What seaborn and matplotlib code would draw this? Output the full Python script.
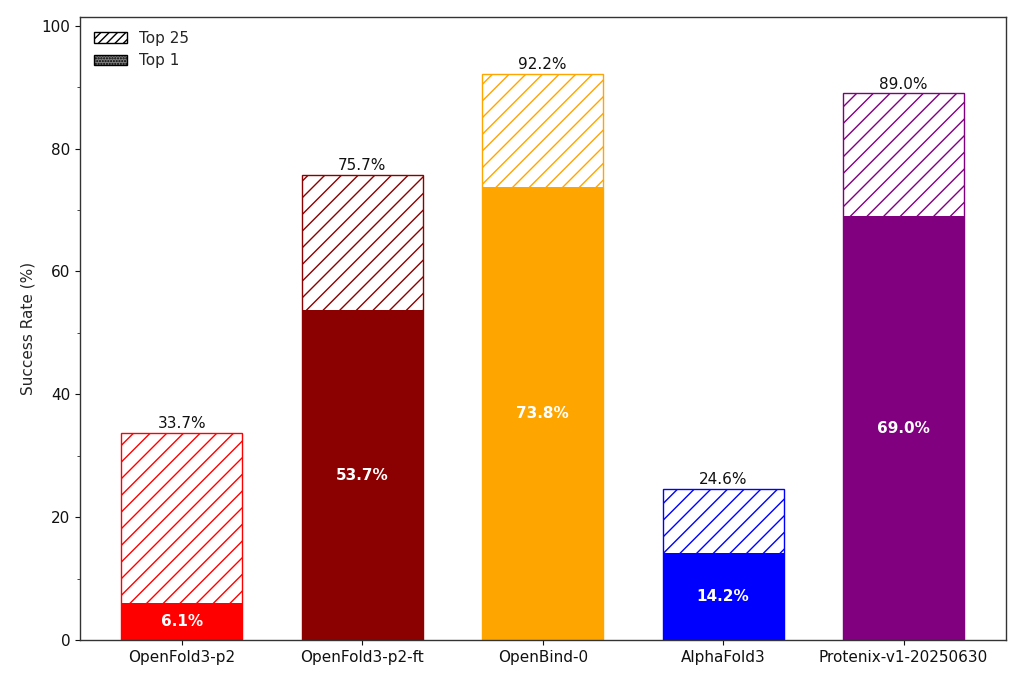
import matplotlib
matplotlib.use("Agg")
import matplotlib.pyplot as plt
import matplotlib.patches as mpatches
from matplotlib.ticker import MultipleLocator
import seaborn as sns
import pandas as pd

models = ["OpenFold3-p2", "OpenFold3-p2-ft", "OpenBind-0", "AlphaFold3", "Protenix-v1-20250630"]
top25 = [33.7, 75.7, 92.2, 24.6, 89.0]
top1 = [6.1, 53.7, 73.8, 14.2, 69.0]
colors = ["red", "darkred", "orange", "blue", "purple"]

df = pd.DataFrame({"model": models, "top25": top25, "top1": top1})

sns.set_style("ticks")
plt.rcParams["font.family"] = ["DejaVu Sans"]
plt.rcParams["hatch.linewidth"] = 1.0

fig, ax = plt.subplots(figsize=(10.24, 6.83), dpi=100)
fig.subplots_adjust(left=0.078, right=0.982, top=0.975, bottom=0.063)

# Top 25: white bars with coloured hatch
sns.barplot(data=df, x="model", y="top25", color="white", width=0.67, ax=ax, saturation=1)
n25 = len(ax.patches)
for p, c in zip(ax.patches[:n25], colors):
    p.set_facecolor("white")
    p.set_edgecolor(c)
    p.set_hatch("//")
    p.set_linewidth(1.0)

# Top 1: solid bars
sns.barplot(data=df, x="model", y="top1", hue="model", palette=colors, width=0.67,
            ax=ax, saturation=1, legend=False)
for p in ax.patches[n25:]:
    p.set_linewidth(0)

for i, (a, b) in enumerate(zip(top25, top1)):
    ax.text(i, a + 0.3, f"{a:.1f}%", ha="center", va="bottom", fontsize=11, color="#111111")
    ax.text(i, b / 2, f"{b:.1f}%", ha="center", va="center", fontsize=11,
            color="white", fontweight="bold")

ax.set_xlim(-0.565, len(models) - 1 + 0.565)
ax.set_ylim(0, max(top25) * 1.1)
ax.yaxis.set_major_locator(MultipleLocator(20))
ax.yaxis.set_minor_locator(MultipleLocator(10))
ax.set_xlabel("")
ax.set_ylabel("Success Rate (%)", fontsize=11)
ax.tick_params(axis="both", labelsize=11, colors="#111111")
for s in ax.spines.values():
    s.set_visible(True)
    s.set_color("#333333")
    s.set_linewidth(1.0)

handles = [
    mpatches.Patch(facecolor="white", edgecolor="black", hatch="////", label="Top 25"),
    mpatches.Patch(facecolor="gray", edgecolor="black", hatch="......", label="Top 1"),
]
ax.legend(handles=handles, loc="upper left", frameon=False, fontsize=11, handlelength=2.2)

fig.savefig("out.png", dpi=100)
